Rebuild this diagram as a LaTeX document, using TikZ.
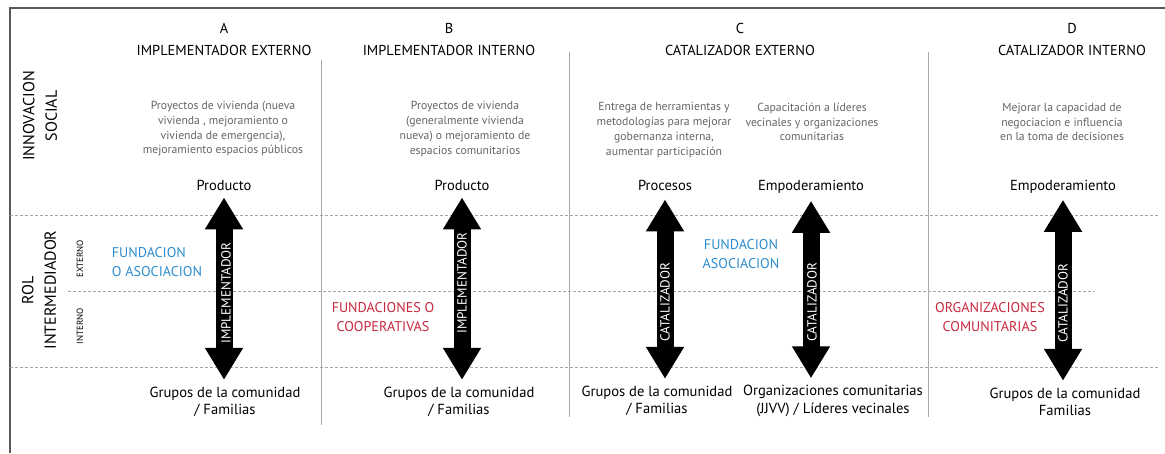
\documentclass[tikz,border=0pt]{standalone}
\usepackage{fontspec}
\setmainfont{PT Sans}
\usetikzlibrary{arrows.meta}

\begin{document}
\begin{tikzpicture}
		[x=1pt,y=-1pt,
		%Styles
		frame line/.style={line width=2pt,draw=framegray},
		column line/.style={line width=0.8pt,draw=linegray},
		level line/.style={line width=0.8pt,draw=dashgray,dash pattern=on 2.5pt off 2.5pt},
		title text/.style={inner sep=0pt,font=\fontsize{14.4}{16}\selectfont},
		information text/.style={inner sep=0pt,align=center,text=descgray,font=\fontsize{11.7}{14.7}\selectfont},
		result text/.style={inner sep=0pt,font=\fontsize{14.5}{16}\selectfont},
		group text/.style={inner sep=0pt,align=center,font=\fontsize{14.6}{17.5}\selectfont},
		actor text/.style={inner sep=0pt,align=#1,font=\fontsize{14.1}{18.5}\selectfont},
		role arrow/.style={line width=17pt,draw=black,{Triangle[width=36pt,length=32pt]}-{Triangle[width=36pt,length=32pt]}},
		role text/.style={inner sep=0pt,rotate=90,text=white,font=\fontsize{13.2}{15}\selectfont},
		row text/.style={inner sep=0pt,rotate=90,align=center,font=\fontsize{16}{22.5}\selectfont},
		level text/.style={inner sep=0pt,rotate=90,font=\fontsize{9}{10}\selectfont}
		]
		
		%Colors
		\definecolor{framegray}{RGB}{90,90,90}
		\definecolor{linegray}{RGB}{170,170,170}
		\definecolor{dashgray}{RGB}{165,165,165}
		\definecolor{descgray}{RGB}{100,100,100}
		\definecolor{extblue}{RGB}{45,140,205}
		\definecolor{intred}{RGB}{200,40,62}
		
		\useasboundingbox (0,0) rectangle (1165,453);
		
		%Frame and grid
		\draw[frame line] (10,453) -- (10,8) -- (1165,8);
		\draw[column line] (321,60) -- (321,425);
		\draw[column line] (569,52) -- (569,417);
		\draw[column line] (928,52) -- (928,417);
		\draw[level line] (10,215) -- (1160,215);
		\draw[level line] (68,291) -- (1095,291);
		\draw[level line] (10,367) -- (1160,367);
		
		%Row labels
		\node[row text] (innovacion) at (40,116) {INNOVACION\\SOCIAL};
		\node[row text] (rol) at (39,290) {ROL\\INTERMEDIADOR};
		\node[level text] (externo) at (80,259) {EXTERNO};
		\node[level text] (interno) at (80,326) {INTERNO};
		
		%Column headers
		\node[title text] (letterA) at (224,28) {A};
		\node[title text] (titleA) at (224,50) {IMPLEMENTADOR EXTERNO};
		\node[title text] (letterB) at (449,28) {B};
		\node[title text] (titleB) at (449,50) {IMPLEMENTADOR INTERNO};
		\node[title text] (letterC) at (740,28) {C};
		\node[title text] (titleC) at (740,50) {CATALIZADOR EXTERNO};
		\node[title text] (letterD) at (1072,28) {D};
		\node[title text] (titleD) at (1072,50) {CATALIZADOR INTERNO};
		
		%Descriptions
		\node[information text] (descA) at (223,129) {Proyectos de vivienda (nueva\\vivienda , mejoramiento o\\vivienda de emergencia),\\mejoramiento espacios públicos};
		\node[information text] (descB) at (465,129) {Proyectos de vivienda\\(generalmente vivienda\\nueva) o mejoramiento de\\espacios comunitarios};
		\node[information text] (descC) at (664,130) {Entrega de herramientas y\\metodologías para mejorar\\gobernanza interna,\\aumentar participación};
		\node[information text] (descCC) at (812,122) {Capacitación a líderes\\vecinales y organizaciones\\comunitarias};
		\node[information text] (descD) at (1062,122) {Mejorar la capacidad de\\negociacion e influencia\\en la toma de decisiones};
		
		%Results
		\node[result text] (prodA) at (224,185) {Producto};
		\node[result text] (prodB) at (462,185) {Producto};
		\node[result text] (procC) at (665,185) {Procesos};
		\node[result text] (empoC) at (811,187) {Empoderamiento};
		\node[result text] (empoD) at (1063,187) {Empoderamiento};
		
		%Beneficiaries
		\node[group text] (grupA) at (225,402) {Grupos de la comunidad\\/ Familias};
		\node[group text] (grupB) at (459,402) {Grupos de la comunidad\\/ Familias};
		\node[group text] (grupC) at (657,401) {Grupos de la comunidad\\/ Familias};
		\node[group text] (orgC) at (833,401) {Organizaciones comunitarias\\(JJVV) / Líderes vecinales};
		\node[group text] (grupD) at (1065,402) {Grupos de la comunidad\\Familias};
		
		%Role arrows
		\draw[role arrow] ([yshift=-7pt]prodA.south) -- ([yshift=7pt]prodA.south |- grupA.north);
		\draw[role arrow] ([yshift=-7pt]prodB.south) -- ([yshift=7pt]prodB.south |- grupB.north);
		\draw[role arrow] ([yshift=-9pt]procC.south) -- ([yshift=7pt]procC.south |- grupC.north);
		\draw[role arrow] ([yshift=-7pt]empoC.south) -- ([yshift=7pt]empoC.south |- orgC.north);
		\draw[role arrow] ([yshift=-6pt]empoD.south) -- ([yshift=7pt]empoD.south |- grupD.north);
		\node[role text] (roleA) at (226,293) {IMPLEMENTADOR};
		\node[role text] (roleB) at (462,283) {IMPLEMENTADOR};
		\node[role text] (roleC) at (665,302) {CATALIZADOR};
		\node[role text] (roleCC) at (812,302) {CATALIZADOR};
		\node[role text] (roleD) at (1063,303) {CATALIZADOR};
		
		%Intermediaries
		\node[actor text=left,text=extblue] (fundA) at (157,262) {FUNDACION\\O ASOCIACION};
		\node[actor text=center,text=intred] (fundB) at (383,317) {FUNDACIONES O\\COOPERATIVAS};
		\node[actor text=center,text=extblue] (fundC) at (741,254) {FUNDACION\\ASOCIACION};
		\node[actor text=center,text=intred] (orgD) at (990,317) {ORGANIZACIONES\\COMUNITARIAS};
	\end{tikzpicture}
\end{document}
